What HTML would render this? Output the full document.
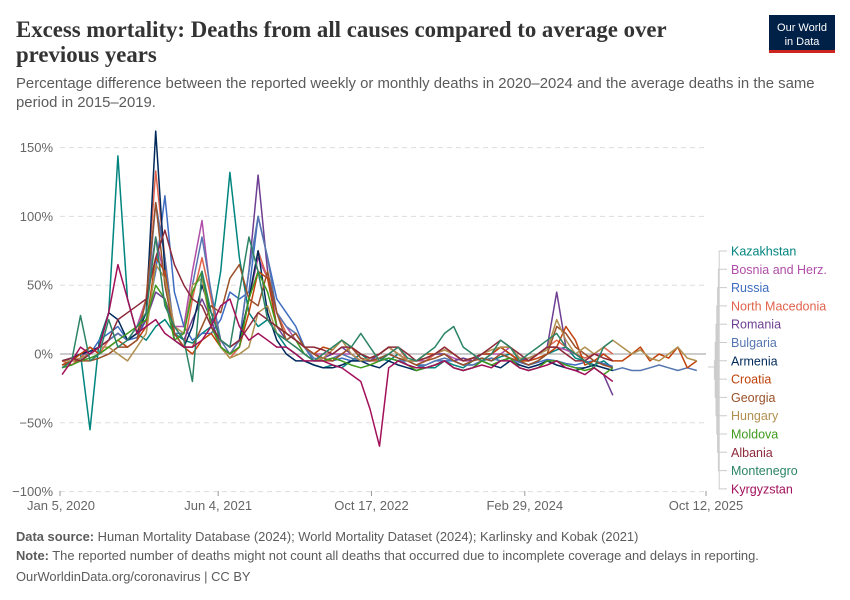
<!DOCTYPE html>
<html><head><meta charset="utf-8">
<style>
body{margin:0;background:#fff;font-family:"Liberation Sans",sans-serif;}
svg{display:block}
</style></head>
<body>
<svg id="chart" width="850" height="600" viewBox="0 0 850 600">
  <text x="16" y="37" font-family="Liberation Serif,serif" font-weight="bold" font-size="22.8" fill="#333">Excess mortality: Deaths from all causes compared to average over</text>
  <text x="16" y="62" font-family="Liberation Serif,serif" font-weight="bold" font-size="22.8" fill="#333">previous years</text>
  <text x="16" y="88" font-size="14.9" fill="#5b5b5b">Percentage difference between the reported weekly or monthly deaths in 2020–2024 and the average deaths in the same</text>
  <text x="16" y="107" font-size="14.9" fill="#5b5b5b">period in 2015–2019.</text>
  <g>
    <rect x="769" y="15" width="66" height="38" fill="#002147"/>
    <rect x="769" y="50" width="66" height="3" fill="#ce261e"/>
    <text x="802" y="31" text-anchor="middle" font-size="11" fill="#fff">Our World</text>
    <text x="802" y="45" text-anchor="middle" font-size="11" fill="#fff">in Data</text>
  </g>
  <g id="grid"></g>
  <g id="series"></g>
  <g id="legend"></g>
  <text x="16" y="541" font-size="12.9" fill="#5b5b5b"><tspan font-weight="bold">Data source:</tspan> Human Mortality Database (2024); World Mortality Dataset (2024); Karlinsky and Kobak (2021)</text>
  <text x="16" y="560" font-size="12.9" fill="#5b5b5b"><tspan font-weight="bold">Note:</tspan> The reported number of deaths might not count all deaths that occurred due to incomplete coverage and delays in reporting.</text>
  <text x="16" y="581" font-size="12.9" fill="#5b5b5b">OurWorldinData.org/coronavirus | CC BY</text>
</svg>
<script>
const yTicks = [150, 100, 50, 0, -50, -100];
const xTickLabels = ["Jan 5, 2020", "Jun 4, 2021", "Oct 17, 2022", "Feb 29, 2024", "Oct 12, 2025"];
const xTickDates = ["2020-01-05", "2021-06-04", "2022-10-17", "2024-02-29", "2025-10-12"];
const countries = ["Kazakhstan","Bosnia and Herz.","Russia","North Macedonia","Romania","Bulgaria","Armenia","Croatia","Georgia","Hungary","Moldova","Albania","Montenegro","Kyrgyzstan"];
const colors = ["#00847e","#b04ea8","#3d6cc0","#e0634c","#6d3e91","#5676b0","#00295b","#c0420b","#9a5129","#b09050","#3f9a1e","#8c2a3a","#2c8465","#a2105a"];
const kazakhstan = [-5,-3,0,-55,10,30,144,40,15,10,20,25,15,10,8,15,20,60,132,70,30,20,25,15,5,0,-5,-8,-10,-8,-10,-5,0,-5,-3,-5,0,-5,-8,-10,-10,-5,-8,-10,-5,-3,-5,-2,0,-5,-8,-5,0,3,5,-3,-5,-8,-5,-10];
const bosnia = [-10,-5,-3,0,5,10,15,10,20,40,85,55,20,20,60,97,40,5,0,5,40,70,55,30,20,10,5,0,0,0,0,0,-5,-5,0,5,0,-5,-5,-5,0,0,-3,-5,-5,0,0,0,5,-3,-5,0,5,5,3,0,-5,0,0,-5];
const russia = [-5,-3,-5,0,10,15,20,10,12,25,60,115,45,20,10,15,15,25,45,40,45,100,70,40,30,20,5,-5,-5,-5,-3,-5,-5,-5,-5,-3,-5,-5,-8,-8,-5,-5,-5,-8,-8,-5,-3,-5,-3,-6,-8,-6,-4,-5,-7,-8,-6,-5,-7,-9];
const northMacedonia = [-5,-8,-3,5,0,10,15,10,15,40,133,70,15,5,40,70,40,5,-3,5,40,75,55,30,15,10,5,0,-5,-5,0,5,-3,-5,-5,0,5,-5,-8,-5,0,5,0,-5,-3,-5,0,5,5,-5,-5,0,5,10,5,0,-3,0,5,0];
const romania = [-5,-3,0,0,5,10,15,10,15,25,45,40,20,10,25,40,25,5,0,10,60,130,60,20,10,15,5,0,-3,0,5,0,-5,-5,0,5,0,-5,-5,-3,0,0,-5,-3,-5,0,0,5,0,-5,-3,0,5,45,5,0,-5,-10,-15,-30];
const bulgaria = [-8,-5,-3,0,5,10,15,10,15,30,110,70,15,15,50,85,45,10,0,10,60,100,70,30,20,15,5,-3,-5,-3,0,-3,-5,-5,-3,0,-3,-8,-10,-8,-5,-3,-5,-8,-8,-5,-3,-5,-3,-8,-10,-8,-5,-5,-8,-10,-10,-8,-10,-12,-10,-12,-12,-10,-8,-10,-12,-10,-12];
const armenia = [-5,-3,0,2,5,30,25,10,15,30,162,60,10,5,20,50,30,10,5,10,40,75,30,10,0,-5,-5,-8,-10,-10,-8,-5,-5,-8,-10,-5,-8,-10,-12,-10,-8,-5,-10,-12,-10,-5,-8,-10,-5,-8,-10,-8,-5,-8,-10,-12,-10,-8,-10,-12];
const croatia = [-8,-5,0,5,0,5,10,5,10,20,70,60,15,5,0,10,15,5,0,5,30,60,55,20,15,10,5,0,5,3,10,5,0,-3,0,5,0,-5,-5,0,0,3,0,-5,-3,0,0,5,0,-5,-5,-3,0,5,20,10,-8,-5,0,-5,-5,0,5,-5,0,-3,5,-10,-5];
const georgia = [-10,-5,-5,-5,-3,0,5,5,10,40,110,50,15,5,5,20,35,30,55,65,40,35,60,30,10,15,5,0,-3,-5,0,5,-3,-5,-3,0,-3,-5,-8,-5,-3,0,-5,-8,-5,-3,-5,0,-3,-5,-8,-5,0,20,15,5,0,-5,-8,-10];
const hungary = [-5,-5,-3,0,5,5,0,-5,5,15,65,55,20,15,50,55,20,5,-3,0,5,30,35,15,10,5,0,-5,-3,3,10,0,-5,-3,0,5,0,-5,-5,-3,0,3,0,-5,-3,0,3,5,5,-3,-3,0,3,25,10,0,5,0,5,10,5,0,3,-3,-5,0,5,-3,-5];
const moldova = [-10,-8,-5,-3,0,5,10,15,20,25,50,40,10,15,45,60,20,5,0,5,40,60,45,20,15,10,0,-5,-5,-3,-5,-8,-10,-8,-5,-3,-5,-8,-12,-10,-8,-5,-10,-12,-10,-5,-8,-5,-3,-10,-12,-10,-5,-5,-8,-10,-12,-10,-15,-10];
const albania = [-5,-3,-5,0,5,10,25,30,35,40,70,90,65,50,40,35,20,10,5,10,20,30,25,20,15,10,5,5,3,0,5,5,0,-3,0,5,5,0,-5,-3,0,5,0,-5,-3,0,5,10,5,0,-5,0,5,5,0,-5,-5,0,-3,-5];
const montenegro = [-10,-5,28,-5,0,25,5,10,20,30,85,35,20,10,-20,60,30,10,5,45,85,60,25,15,10,5,0,-5,0,5,10,5,15,5,-5,0,5,-3,-5,0,5,15,20,5,0,-5,0,10,5,-5,0,5,10,15,5,0,-5,-10,5,10];
const kyrgyzstan = [-15,-5,5,0,5,30,65,40,15,20,25,15,10,5,5,10,20,35,40,20,10,15,10,5,5,0,-5,-5,-5,-8,-10,-15,-20,-40,-67,-10,-5,-8,-10,-10,-8,-5,-10,-12,-10,-8,-10,-5,-5,-10,-12,-10,-8,-5,-10,-12,-15,-10,-15,-20];
const seriesValues = [kazakhstan,bosnia,russia,northMacedonia,romania,bulgaria,armenia,croatia,georgia,hungary,moldova,albania,montenegro,kyrgyzstan];

const NS = "http://www.w3.org/2000/svg";
const X0 = 60, X1 = 706, T0 = Date.UTC(2020,0,5), T1 = Date.UTC(2025,9,12);
function xScale(t){ return X0 + (t - T0) / (T1 - T0) * (X1 - X0); }
function yScale(v){ return 354 - v * 1.376; }
function monthTime(i){ return Date.UTC(2020, i, 12); }
function mk(tag, attrs, parent){ const e = document.createElementNS(NS, tag); for (const k in attrs) e.setAttribute(k, attrs[k]); parent.appendChild(e); return e; }

const grid = document.getElementById("grid");
yTicks.forEach(v => {
  const y = yScale(v);
  const line = mk("line", {x1:60, x2:706, y1:y, y2:y, stroke: v===0 ? "#9a9a9a" : "#dddddd", "stroke-width":1, "stroke-dasharray": v===0 ? "none" : "5,4"}, grid);
  
  
  const lab = mk("text", {x:53, y:y+4.5, "text-anchor":"end", "font-size":13, fill:"#666"}, grid);
  lab.textContent = (v < 0 ? "−" + Math.abs(v) : v) + "%";
  
  
});
xTickDates.forEach((d, i) => {
  const x = xScale(Date.parse(d));
  const tk = mk("line", {x1:x, x2:x, y1:491, y2:496, stroke:"#999"}, grid);
  
  
  const lab = mk("text", {x: i===0 ? x+1 : x, y:510, "text-anchor":"middle", "font-size":13, fill:"#666"}, grid);
  lab.textContent = xTickLabels[i];
  
  
});

const sg = document.getElementById("series");
const lg = document.getElementById("legend");
seriesValues.forEach((vals, s) => {
  const pts = vals.map((v, i) => xScale(monthTime(i)).toFixed(1) + "," + yScale(v).toFixed(1)).join(" ");
  const pl = mk("polyline", {points: pts, fill:"none", stroke: colors[s], "stroke-width":1.5, "stroke-linejoin":"round"}, sg);
  
  
});
countries.forEach((c, s) => {
  const ly = 251 + s * 18.3;
  const vx = 714 + Math.abs(s-6.5)*0.8;
  const conn = mk("polyline", {points: "708,367 " + vx + ",367 " + vx + "," + ly + " 727," + ly, fill:"none", stroke:"#ccc", "stroke-width":1}, lg);
  
  
  const t = mk("text", {x:731, y:ly+4.5, "font-size":12.5, fill: colors[s]}, lg);
  t.textContent = c;
  
  
});
</script>
</body></html>
